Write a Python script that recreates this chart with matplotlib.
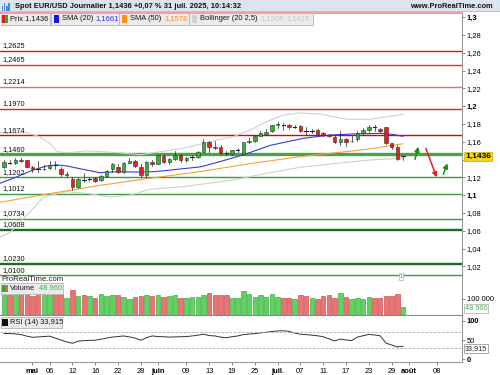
import matplotlib
matplotlib.use('Agg')
import matplotlib.pyplot as plt
import numpy as np
import pandas as pd
from matplotlib.patches import Rectangle

plt.rcParams['font.family'] = ['Liberation Sans', 'DejaVu Sans']

# ---------------- data ----------------
start_date = '2025-04-24'
end_date = '2025-08-15'

opens = [1.1320, 1.1368, 1.1360, 1.1400, 1.1390, 1.1320, 1.1305, 1.1290, 1.1310, 1.1340,
         1.1300, 1.1230, 1.1180, 1.1090, 1.1180, 1.1175, 1.1190, 1.1170, 1.1215, 1.1300,
         1.1320, 1.1265, 1.1366, 1.1385, 1.1320, 1.1230, 1.1368, 1.1350, 1.1440, 1.1370,
         1.1405, 1.1450, 1.1395, 1.1420, 1.1425, 1.1490, 1.1595, 1.1545, 1.1545, 1.1480,
         1.1465, 1.1505, 1.1460, 1.1598, 1.1605, 1.1668, 1.1688, 1.1720, 1.1790, 1.1795,
         1.1789, 1.1768, 1.1778, 1.1727, 1.1720, 1.1733, 1.1695, 1.1672, 1.1650, 1.1594,
         1.1628, 1.1605, 1.1628, 1.1695, 1.1733, 1.1768, 1.1744, 1.1763, 1.1583, 1.1538,
         1.1432]
highs = [1.1395, 1.1400, 1.1415, 1.1415, 1.1395, 1.1330, 1.1380, 1.1340, 1.1380, 1.1380,
         1.1320, 1.1260, 1.1205, 1.1190, 1.1245, 1.1200, 1.1210, 1.1230, 1.1285, 1.1360,
         1.1345, 1.1375, 1.1415, 1.1400, 1.1345, 1.1385, 1.1390, 1.1455, 1.1460, 1.1420,
         1.1495, 1.1460, 1.1425, 1.1450, 1.1495, 1.1630, 1.1610, 1.1610, 1.1560, 1.1500,
         1.1510, 1.1525, 1.1600, 1.1640, 1.1675, 1.1720, 1.1745, 1.1790, 1.1825, 1.1807,
         1.1800, 1.1785, 1.1790, 1.1763, 1.1745, 1.1748, 1.1705, 1.1690, 1.1675, 1.1720,
         1.1640, 1.1665, 1.1720, 1.1750, 1.1785, 1.1789, 1.1760, 1.1770, 1.1590, 1.1560,
         1.1445]
lows = [1.1310, 1.1345, 1.1355, 1.1375, 1.1315, 1.1265, 1.1265, 1.1280, 1.1290, 1.1290,
        1.1215, 1.1205, 1.1060, 1.1085, 1.1150, 1.1160, 1.1150, 1.1165, 1.1205, 1.1265,
        1.1250, 1.1255, 1.1360, 1.1320, 1.1210, 1.1210, 1.1330, 1.1345, 1.1360, 1.1355,
        1.1395, 1.1375, 1.1370, 1.1390, 1.1420, 1.1480, 1.1490, 1.1520, 1.1460, 1.1450,
        1.1455, 1.1490, 1.1455, 1.1585, 1.1595, 1.1660, 1.1680, 1.1710, 1.1760, 1.1733,
        1.1740, 1.1755, 1.1710, 1.1676, 1.1700, 1.1675, 1.1665, 1.1650, 1.1585, 1.1564,
        1.1555, 1.1595, 1.1610, 1.1685, 1.1715, 1.1725, 1.1715, 1.1575, 1.1520, 1.1400,
        1.1400]
closes = [1.1375, 1.1365, 1.1400, 1.1385, 1.1320, 1.1290, 1.1300, 1.1300, 1.1340, 1.1335,
          1.1235, 1.1240, 1.1090, 1.1180, 1.1175, 1.1180, 1.1163, 1.1215, 1.1272, 1.1350,
          1.1265, 1.1365, 1.1388, 1.1330, 1.1230, 1.1368, 1.1345, 1.1450, 1.1370, 1.1410,
          1.1450, 1.1395, 1.1415, 1.1425, 1.1490, 1.1600, 1.1540, 1.1535, 1.1475, 1.1475,
          1.1505, 1.1510, 1.1595, 1.1610, 1.1668, 1.1695, 1.1712, 1.1787, 1.1797, 1.1790,
          1.1763, 1.1770, 1.1725, 1.1725, 1.1725, 1.1688, 1.1676, 1.1665, 1.1594, 1.1631,
          1.1601, 1.1613, 1.1695, 1.1733, 1.1770, 1.1763, 1.1725, 1.1583, 1.1545, 1.1407,
          1.1436]
volumes = [124000, 120000, 120000, 126000, 126000, 114000, 126000, 124000, 126000, 126000,
           126000, 106000, 150000, 116000, 124000, 116000, 106000, 126000, 116000, 124000,
           124000, 110000, 96000, 108000, 116000, 122000, 114000, 122000, 108000, 116000,
           120000, 106000, 102000, 108000, 108000, 122000, 132000, 122000, 120000, 120000,
           106000, 106000, 144000, 126000, 108000, 122000, 112000, 126000, 112000, 106000,
           106000, 96000, 120000, 114000, 106000, 100000, 114000, 120000, 106000, 132000,
           108000, 96000, 106000, 96000, 112000, 106000, 106000, 116000, 116000, 126000,
           48960]
rsi14 = [67, 66.5, 66, 64, 60, 57, 58, 59, 60, 55, 50, 45, 41.5, 47, 48.5, 49, 49.5, 52,
         55, 57.5, 59, 60.5, 58, 55, 49.5, 56, 60.5, 59, 58.5, 57.5, 58, 58.5, 59, 60.5,
         62.5, 65, 61.5, 60.5, 57.5, 56, 58.5, 60.5, 64, 65.6, 66.5, 68.5, 70, 72, 73.5, 74,
         72.5, 68, 65, 64, 62.5, 61, 58.5, 53, 47.5, 52.5, 50, 48.5, 57.5, 61, 64.5, 63, 61,
         42, 37, 32, 33.9]

sma20_x = [-0.7, 2.3, 5.1, 7.5, 9.3, 11.05, 13.9, 16.8, 19.8, 23.9, 26.5, 31.75, 34.4,
           37.5, 42.3, 46.7, 52.5, 57.2, 61.2, 66, 68.2, 70]
sma20_v = [1.1134, 1.1208, 1.1283, 1.1328, 1.1340, 1.1328, 1.1290, 1.1253, 1.1264, 1.1260,
           1.1265, 1.1300, 1.1318, 1.1370, 1.1460, 1.1560, 1.1639, 1.1676, 1.1688, 1.1695,
           1.1684, 1.1661]
sma50_x = [-0.7, 7.5, 16.8, 25.6, 34.4, 43.2, 51.9, 58.4, 64.2, 70]
sma50_v = [1.0920, 1.1012, 1.1110, 1.1190, 1.1265, 1.1355, 1.1433, 1.1478, 1.1520, 1.1578]
boll_up_x = [-0.7, 4.0, 6.3, 8.1, 9.3, 11.05, 14.6, 16.8, 19.8, 23.9, 25.6, 31.4, 37.4,
             40.2, 43.2, 46.1, 49.0, 51.9, 55.4, 60.2, 64.2, 70]
boll_up_v = [1.1700, 1.1700, 1.1657, 1.1580, 1.1490, 1.1478, 1.1497, 1.1490, 1.1478, 1.1455,
             1.1470, 1.1527, 1.1620, 1.1657, 1.1733, 1.1826, 1.1901, 1.1925, 1.1912, 1.1853,
             1.1853, 1.1908]
boll_lo_x = [-0.7, 1.05, 5.1, 6.8, 8.1, 11.05, 14.6, 18.6, 22.1, 25.6, 31.4, 40.2, 46.1,
             51.9, 58.4, 64.2, 70]
boll_lo_v = [1.0530, 1.0580, 1.0850, 1.0970, 1.1000, 1.1040, 1.1020, 1.0980, 1.1000, 1.1066,
             1.1096, 1.1171, 1.1246, 1.1313, 1.1358, 1.1396, 1.1415]

red_levels = [1.2625, 1.2465, 1.2214, 1.1970, 1.1674]
red_level_colors = ['#e41010', '#e83030', '#f06a6a', '#e42020', '#e00000']
green_levels = [1.1460, 1.1202, 1.1012, 1.0734, 1.0608, 1.0230, 1.0100]
green_level_colors = ['#4aa34a', '#3d9c3d', '#3d9c3d', '#3d9c3d', '#1d6e1d', '#1d6e1d', '#3d9c3d']
green_level_widths = [2.4, 1.0, 1.0, 1.0, 1.7, 1.7, 1.0]

arrow_tails = [(72.1, 1.1403), (74.0, 1.1527), (77.1, 1.1238)]
arrow_heads = [(72.7, 1.1545), (75.9, 1.1201), (77.8, 1.1358)]
arrow_colors = ['#1d8a1d', '#e52020', '#1d8a1d']

tick_dates = ['2025-05-01', '2025-05-06', '2025-05-12', '2025-05-16', '2025-05-22', '2025-05-28',
              '2025-06-02', '2025-06-09', '2025-06-13', '2025-06-19', '2025-06-25',
              '2025-07-01', '2025-07-07', '2025-07-11', '2025-07-17', '2025-07-23', '2025-07-29',
              '2025-08-01', '2025-08-08']
tick_labels = ['mai', '06', '12', '16', '22', '28', 'juin', '09', '13', '19', '25',
               'juil.', '07', '11', '17', '23', '29', 'août', '08']
month_labels = ['mai', 'juin', 'juil.', 'août']

price_ticks = [1.02, 1.04, 1.06, 1.08, 1.10, 1.12, 1.14, 1.16, 1.18, 1.20, 1.22, 1.24, 1.26, 1.28, 1.30]
hidden_price_tick = 1.14   # covered by the last-price tag in the reference

last_price = 1.1436
last_vol_label = '48 960'
last_rsi_label = '33,915'

# ---------------- figure ----------------
W, H = 500, 375
fig = plt.figure(figsize=(5, 3.75), dpi=100)
fig.patch.set_facecolor('white')


def rect(x0, y0, x1, y1):
    return [x0 / W, 1 - y1 / H, (x1 - x0) / W, (y1 - y0) / H]


def fx(x):
    return x / W


def fy(y):
    return 1 - y / H


ax = fig.add_axes(rect(0, 13, 462, 280))
axv = fig.add_axes(rect(0, 281, 462, 315))
axr = fig.add_axes(rect(0, 316, 462, 362))

days = pd.bdate_range(start_date, end_date)
n = len(closes)
xs = np.arange(n)
XMIN, XMAX = -0.7, 80.35

# ---- main price panel ----
ax.set_xlim(XMIN, XMAX)
ax.set_ylim(1.00472, 1.30472)

for lv, c in zip(red_levels, red_level_colors):
    ax.axhline(lv, color=c, lw=1.0, zorder=1)
for lv, c, w in zip(green_levels, green_level_colors, green_level_widths):
    ax.axhline(lv, color=c, lw=w, zorder=1)
for lv in red_levels + green_levels:
    ax.annotate(f'{lv:.4f}'.replace('.', ','), xy=(0, lv), xycoords=('axes fraction', 'data'),
                xytext=(1.5, 1.2), textcoords='offset points', fontsize=5.3, color='#111',
                va='bottom', ha='left', zorder=6)

ax.plot(boll_up_x, boll_up_v, color='#cfcfcf', lw=0.8, zorder=2)
ax.plot(boll_lo_x, boll_lo_v, color='#cfcfcf', lw=0.8, zorder=2)
ax.plot(sma50_x, sma50_v, color='#f7a035', lw=0.8, zorder=2)
ax.plot(sma20_x, sma20_v, color='#3a3ae0', lw=0.8, zorder=2)

bw = 0.62
for i in range(n):
    o, h, l, c = opens[i], highs[i], lows[i], closes[i]
    ax.plot([i, i], [l, h], color='#222', lw=0.5, zorder=3)
    if abs(c - o) < 0.0006:
        ax.plot([i - bw / 2, i + bw / 2], [c, c], color='#222', lw=0.8, zorder=4)
    else:
        col = '#2fb52f' if c >= o else '#e81e1e'
        ax.add_patch(Rectangle((i - bw / 2, min(o, c)), bw, abs(c - o), fc=col,
                               ec='#303030', lw=0.4, zorder=4))

for t, hd, col in zip(arrow_tails, arrow_heads, arrow_colors):
    ax.annotate('', xy=hd, xytext=t,
                arrowprops=dict(arrowstyle='-|>', color=col, lw=1.1, mutation_scale=7,
                                shrinkA=0, shrinkB=0), zorder=5)

ax.yaxis.tick_right()
ax.set_yticks(price_ticks)
ax.set_yticklabels(['' if abs(v - hidden_price_tick) < 1e-9 else
                    ('%.2f' % v).rstrip('0').replace('.', ',') for v in price_ticks])
for lab, v in zip(ax.get_yticklabels(), price_ticks):
    if abs(v * 10 - round(v * 10)) < 1e-9:
        lab.set_fontweight('bold')
ax.tick_params(axis='y', length=2, width=0.6, pad=1.5, labelsize=5.4, color='#777')
ax.set_xticks([])
for s in ['left', 'bottom']:
    ax.spines[s].set_visible(False)
ax.spines['right'].set_color('#999')
ax.spines['right'].set_linewidth(0.8)
ax.spines['top'].set_color('#f08c8c')
ax.spines['top'].set_linewidth(1.2)

ax.annotate(('%.4f' % last_price).replace('.', ','), xy=(1, last_price),
            xycoords=('axes fraction', 'data'), xytext=(2.2, 0), textcoords='offset points',
            fontsize=6, fontweight='bold', va='center', ha='left', annotation_clip=False,
            bbox=dict(boxstyle='square,pad=0.15', fc='#f7d417', ec='#c8a800', lw=0.5), zorder=7)

ax.annotate('ProRealTime.com', xy=(0, 0), xycoords='axes fraction', xytext=(1, 3),
            textcoords='offset points', fontsize=5.6, color='#222', va='top', ha='left',
            annotation_clip=False)

# ---- volume panel ----
axv.set_xlim(XMIN, XMAX)
axv.set_ylim(0, 208000)
vcols = ['#5fd35f' if closes[i] >= opens[i] else '#ea7474' for i in range(n)]
vedges = ['#2f9a2f' if closes[i] >= opens[i] else '#c03a3a' for i in range(n)]
axv.bar(xs, volumes, width=0.78, color=vcols, edgecolor=vedges, linewidth=0.4, zorder=2)
axv.yaxis.tick_right()
axv.set_yticks([100000])
axv.set_yticklabels(['100 000'])
axv.tick_params(axis='y', length=2, width=0.6, pad=1.5, labelsize=5.4, color='#777')
axv.set_xticks([])
for s in ['left', 'top']:
    axv.spines[s].set_visible(False)
axv.spines['right'].set_color('#999')
axv.spines['bottom'].set_color('#888')
axv.spines['bottom'].set_linewidth(0.8)
axv.annotate(last_vol_label, xy=(1, volumes[-1]), xycoords=('axes fraction', 'data'),
             xytext=(2.2, -1.2), textcoords='offset points', fontsize=5.2, color='#3cb43c',
             va='center', ha='left', annotation_clip=False,
             bbox=dict(boxstyle='square,pad=0.1', fc='white', ec='#aaa', lw=0.5))

# ---- RSI panel ----
axr.set_xlim(XMIN, XMAX)
axr.set_ylim(-7.1, 112.3)
axr.plot(xs, rsi14, color='#333', lw=0.7)
axr.axhline(70, color='#aaa', lw=0.6, ls=(0, (3, 2)))
axr.axhline(30, color='#aaa', lw=0.6, ls=(0, (3, 2)))
axr.yaxis.tick_right()
axr.set_yticks([0, 50, 100])
axr.set_yticklabels(['0', '50', '100'])
for lab, v in zip(axr.get_yticklabels(), [0, 50, 100]):
    if v != 50:
        lab.set_fontweight('bold')
axr.tick_params(axis='y', length=2, width=0.6, pad=1.5, labelsize=5.4, color='#777')
tick_pos = [days.get_loc(pd.Timestamp(d)) for d in tick_dates]
axr.set_xticks(tick_pos)
axr.set_xticklabels(tick_labels)
for lab in axr.get_xticklabels():
    if lab.get_text() in month_labels:
        lab.set_fontweight('bold')
axr.tick_params(axis='x', length=2, width=0.6, pad=2, labelsize=5.4, color='#777')
for s in ['left', 'top']:
    axr.spines[s].set_visible(False)
axr.spines['right'].set_color('#999')
axr.spines['bottom'].set_color('#999')
axr.annotate(last_rsi_label, xy=(1, rsi14[-1]), xycoords=('axes fraction', 'data'),
             xytext=(2.2, -1.5), textcoords='offset points', fontsize=5.2, color='#222',
             va='center', ha='left', annotation_clip=False,
             bbox=dict(boxstyle='square,pad=0.1', fc='white', ec='#888', lw=0.5))

# ---- header ----
fig.patches.append(Rectangle((0, fy(12)), 1, 12 / H, transform=fig.transFigure,
                             fc='#dce5ed', ec='none', zorder=0))
fig.patches.append(Rectangle((0, fy(12)), 1, 0.6 / H, transform=fig.transFigure,
                             fc='#b9c6d2', ec='none', zorder=0))
for k, hh in enumerate([4, 7, 5, 8]):
    fig.patches.append(Rectangle((fx(1.5 + k * 2.3), fy(10.5)), 1.5 / W, hh / H,
                                 transform=fig.transFigure, fc='#4a8ad8', ec='none', zorder=1))
fig.text(fx(15), fy(6.5), 'Spot EUR/USD Journalier 1,1436 +0,07 % 31 juil. 2025, 10:14:32',
         fontsize=5.4, fontweight='bold', va='center', ha='left', color='#111')
fig.text(fx(493), fy(6.5), 'www.ProRealTime.com', fontsize=5.4, fontweight='bold',
         va='center', ha='right', color='#111')


def box(x0, y0, x1, y1):
    fig.patches.append(Rectangle((fx(x0), fy(y1)), (x1 - x0) / W, (y1 - y0) / H,
                                 transform=fig.transFigure, fc='#ebebeb', ec='#b5b5b5',
                                 lw=0.6, zorder=8))


def square(x0, y0, x1, y1, col):
    fig.patches.append(Rectangle((fx(x0), fy(y1)), (x1 - x0) / W, (y1 - y0) / H,
                                 transform=fig.transFigure, fc=col, ec='none', zorder=9))


def txt(x, y, s, col='#111', **kw):
    fig.text(fx(x), fy(y), s, fontsize=5.4, color=col, va='center', ha='left', zorder=10, **kw)


# legend boxes
box(0.5, 13, 50, 25)
square(1.5, 15.5, 4.5, 22.5, '#e02020')
square(4.5, 15.5, 7.5, 22.5, '#2faa2f')
txt(10, 19, 'Prix 1,1436')
box(51, 13, 119, 25)
square(53.5, 15.5, 59, 22.5, '#1515e0')
txt(62, 19, 'SMA (20)')
txt(95, 19, '1,1661', '#3030e8')
box(119, 13, 189, 25)
square(121.5, 15.5, 127, 22.5, '#ff9010')
txt(130, 19, 'SMA (50)')
txt(164.5, 19, '1,1578', '#f59020')
box(189, 13, 313, 25)
square(191.5, 15.5, 197, 22.5, '#cfcfcf')
txt(200, 19, 'Bollinger (20 2,5)')
txt(260, 19, '1,1908', '#c8c8c8')
txt(286, 19, '1,1415', '#c8c8c8')

box(0.5, 283, 63, 293.5)
square(1.5, 285, 4.5, 291.5, '#2faa2f')
square(4.5, 285, 7.5, 291.5, '#e06060')
txt(10, 288.3, 'Volume')
txt(39, 288.3, last_vol_label, '#3cb43c')

box(0.5, 317, 62, 327.5)
square(1.5, 319, 7.5, 325.5, '#111111')
txt(10, 322.3, 'RSI (14) ' + last_rsi_label)

fig.text(fx(401), fy(276.5), '1', fontsize=3.5, color='#666', ha='center', va='center',
         bbox=dict(boxstyle='square,pad=0.2', fc='white', ec='#999', lw=0.4), zorder=10)

fig.savefig('out.png', dpi=100, facecolor='white')
